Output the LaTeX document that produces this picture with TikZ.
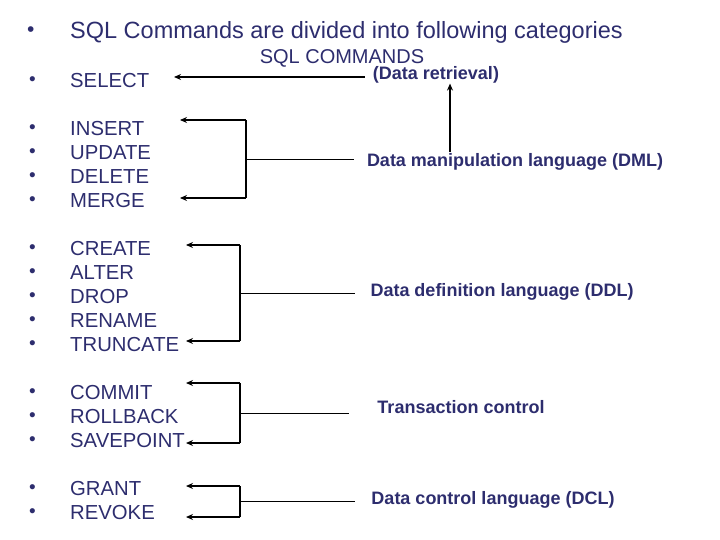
\documentclass[tikz,border=0pt]{standalone}
\usepackage{fontspec}
\setmainfont{Liberation Sans}
\usetikzlibrary{arrows.meta,positioning}
\definecolor{navy}{RGB}{45,45,110}
\tikzstyle{item}=[anchor=west,inner sep=0pt,text=navy,font=\fontsize{20.3}{20}\selectfont]
\tikzstyle{lbl}=[inner sep=0pt,text=navy,font=\bfseries\fontsize{18}{18}\selectfont]
\tikzstyle{arr}=[-{Stealth[length=7pt,width=6pt]},line width=1.6pt]
\begin{document}
\begin{tikzpicture}[x=1pt,y=-1pt]
\useasboundingbox (0,0) rectangle (720,540);
% title and bullet list
\node[item,font=\fontsize{23.5}{23}\selectfont] (title) at (70,32) {SQL Commands are divided into following categories};
\node[item,font=\fontsize{21}{21}\selectfont] at (27,32) {\textbullet};
\foreach \name/\txt/\y in {sel/SELECT/81, ins/INSERT/129, upd/UPDATE/153, del/DELETE/177, mrg/MERGE/201,
  cre/CREATE/249, alt/ALTER/273, drp/DROP/297, ren/RENAME/321, trn/TRUNCATE/345,
  com/COMMIT/393, rol/ROLLBACK/417, sav/SAVEPOINT/441, gra/GRANT/489, rev/REVOKE/513}{
  \node[item] (\name) at (70,\y) {\txt};
  \node[item,font=\fontsize{19}{19}\selectfont] at (29,\y) {\textbullet};
}
\node[text=navy,inner sep=0pt,font=\fontsize{20}{20}\selectfont] (head) at (342,58) {SQL COMMANDS};
% category labels
\node[lbl] (dr) at (436,75) {(Data retrieval)};
\node[lbl] (dml) at (515,162) {Data manipulation language (DML)};
\node[lbl] (ddl) at (502,292) {Data definition language (DDL)};
\node[lbl] (tcl) at (461,407) {Transaction control};
\node[lbl] (dcl) at (493,500) {Data control language (DCL)};
% connectors
\coordinate (selT) at (174,77);
\draw[arr] (dr.west) ++(-8,2) coordinate (drS) -- (selT);
\draw[arr] (450,152) coordinate (dmlT) -- (dmlT |- dr.south);
\foreach \lab/\ya/\yb/\xt/\xv/\xe in {dml/120/198/180/246/354, ddl/245/341/186/240/355,
  tcl/383/443/186/240/349, dcl/486/517/186/240/355}{
  \draw[arr] (\xv,\ya) -- (\xt,\ya);
  \draw[arr] (\xv,\yb) -- (\xt,\yb);
  \draw[line width=1.6pt] (\xv,\ya) -- (\xv,\yb);
  \draw[line width=0.8pt] (\xv,{(\ya+\yb)/2}) -- (\xe,{(\ya+\yb)/2});
}
\end{tikzpicture}
\end{document}
